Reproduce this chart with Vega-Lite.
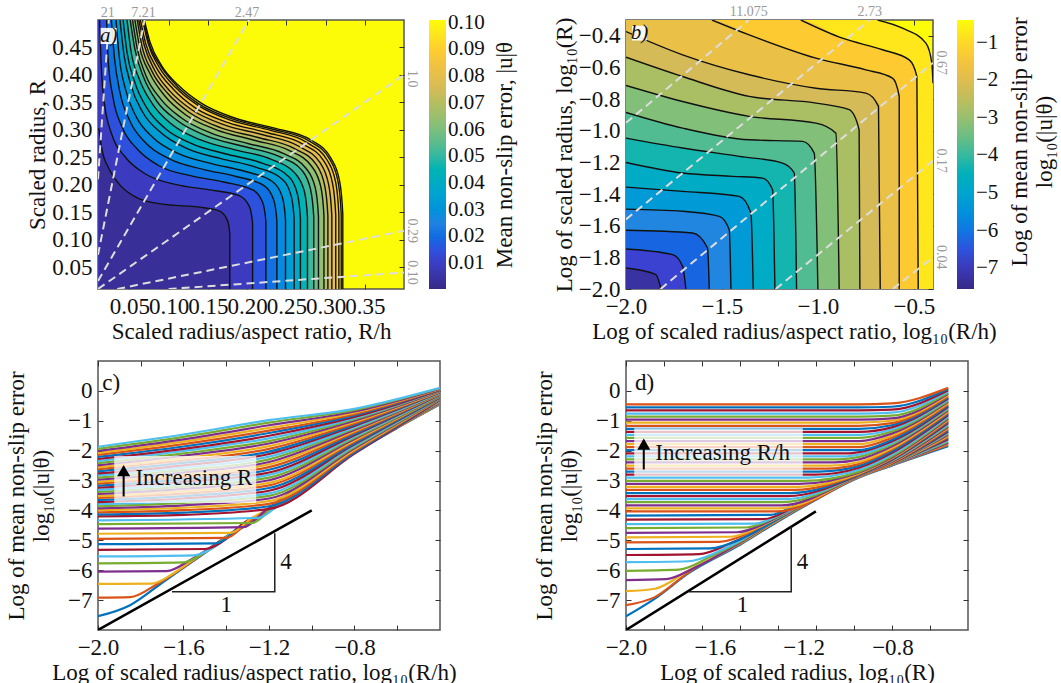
{"$schema":"https://vega.github.io/schema/vega-lite/v6.json","padding":{"left":4,"top":4,"right":0,"bottom":0},"background":"white","bounds":"flush","align":"all","columns":2,"spacing":{"row":72,"column":186},"resolve":{"scale":{"fill":"independent"}},
"config":{"font":"Liberation Serif","view":{"stroke":"#555555","strokeWidth":1.5},"axis":{"grid":false,"labelFont":"Liberation Serif","labelFontSize":23,"labelColor":"#111111","titleFont":"Liberation Serif","titleFontSize":23,"titleFontWeight":"normal","titleColor":"#111111","tickSize":-5,"tickColor":"#333333","domain":false,"labelPadding":11,"labelOverlap":false,"labelFlush":false,"labelBound":false,"titlePadding":2,"titleLimit":600},"legend":{"labelFont":"Liberation Serif","labelFontSize":21,"labelColor":"#111111","titleFont":"Liberation Serif","titleFontSize":23,"titleFontWeight":"normal","titleColor":"#111111","titleLimit":600}},
"datasets":{
"ca":[
{"l":0.099,"x":0.01,"y":0.5,"e":1},{"l":0.099,"x":0.069,"y":0.5},{"l":0.099,"x":0.0765,"y":0.459},{"l":0.099,"x":0.091,"y":0.417},{"l":0.099,"x":0.1125,"y":0.381},{"l":0.099,"x":0.142,"y":0.348},{"l":0.099,"x":0.185,"y":0.321},{"l":0.099,"x":0.235,"y":0.303},{"l":0.099,"x":0.282,"y":0.281},{"l":0.099,"x":0.307,"y":0.248},{"l":0.099,"x":0.318,"y":0.206},{"l":0.099,"x":0.322,"y":0.146},{"l":0.099,"x":0.322,"y":0.01},
{"l":0.093,"x":0.01,"y":0.5,"e":1},{"l":0.093,"x":0.068,"y":0.5},{"l":0.093,"x":0.075,"y":0.458},{"l":0.093,"x":0.09,"y":0.416},{"l":0.093,"x":0.111,"y":0.379},{"l":0.093,"x":0.14,"y":0.346},{"l":0.093,"x":0.183,"y":0.319},{"l":0.093,"x":0.233,"y":0.301},{"l":0.093,"x":0.28,"y":0.279},{"l":0.093,"x":0.305,"y":0.247},{"l":0.093,"x":0.316,"y":0.205},{"l":0.093,"x":0.32,"y":0.146},{"l":0.093,"x":0.32,"y":0.01},
{"l":0.087,"x":0.01,"y":0.5,"e":1},{"l":0.087,"x":0.067,"y":0.5},{"l":0.087,"x":0.074,"y":0.457},{"l":0.087,"x":0.088,"y":0.414},{"l":0.087,"x":0.109,"y":0.377},{"l":0.087,"x":0.138,"y":0.344},{"l":0.087,"x":0.18,"y":0.317},{"l":0.087,"x":0.23,"y":0.299},{"l":0.087,"x":0.276,"y":0.277},{"l":0.087,"x":0.302,"y":0.245},{"l":0.087,"x":0.313,"y":0.204},{"l":0.087,"x":0.317,"y":0.145},{"l":0.087,"x":0.317,"y":0.01},
{"l":0.081,"x":0.01,"y":0.5,"e":1},{"l":0.081,"x":0.064,"y":0.5},{"l":0.081,"x":0.071,"y":0.456},{"l":0.081,"x":0.085,"y":0.412},{"l":0.081,"x":0.106,"y":0.374},{"l":0.081,"x":0.134,"y":0.34},{"l":0.081,"x":0.176,"y":0.313},{"l":0.081,"x":0.225,"y":0.295},{"l":0.081,"x":0.271,"y":0.274},{"l":0.081,"x":0.298,"y":0.243},{"l":0.081,"x":0.309,"y":0.202},{"l":0.081,"x":0.313,"y":0.145},{"l":0.081,"x":0.313,"y":0.01},
{"l":0.075,"x":0.01,"y":0.5,"e":1},{"l":0.075,"x":0.062,"y":0.5},{"l":0.075,"x":0.069,"y":0.454},{"l":0.075,"x":0.082,"y":0.409},{"l":0.075,"x":0.102,"y":0.37},{"l":0.075,"x":0.13,"y":0.336},{"l":0.075,"x":0.171,"y":0.309},{"l":0.075,"x":0.22,"y":0.291},{"l":0.075,"x":0.266,"y":0.27},{"l":0.075,"x":0.293,"y":0.24},{"l":0.075,"x":0.304,"y":0.2},{"l":0.075,"x":0.308,"y":0.144},{"l":0.075,"x":0.308,"y":0.01},
{"l":0.069,"x":0.01,"y":0.5,"e":1},{"l":0.069,"x":0.06,"y":0.5},{"l":0.069,"x":0.066,"y":0.453},{"l":0.069,"x":0.079,"y":0.406},{"l":0.069,"x":0.099,"y":0.366},{"l":0.069,"x":0.126,"y":0.332},{"l":0.069,"x":0.166,"y":0.304},{"l":0.069,"x":0.214,"y":0.286},{"l":0.069,"x":0.26,"y":0.266},{"l":0.069,"x":0.288,"y":0.237},{"l":0.069,"x":0.299,"y":0.198},{"l":0.069,"x":0.303,"y":0.143},{"l":0.069,"x":0.303,"y":0.01},
{"l":0.063,"x":0.01,"y":0.5,"e":1},{"l":0.063,"x":0.057,"y":0.5},{"l":0.063,"x":0.063,"y":0.451},{"l":0.063,"x":0.076,"y":0.403},{"l":0.063,"x":0.095,"y":0.362},{"l":0.063,"x":0.122,"y":0.327},{"l":0.063,"x":0.161,"y":0.3},{"l":0.063,"x":0.209,"y":0.281},{"l":0.063,"x":0.254,"y":0.262},{"l":0.063,"x":0.282,"y":0.234},{"l":0.063,"x":0.294,"y":0.196},{"l":0.063,"x":0.298,"y":0.143},{"l":0.063,"x":0.298,"y":0.01},
{"l":0.057,"x":0.01,"y":0.5,"e":1},{"l":0.057,"x":0.054,"y":0.5},{"l":0.057,"x":0.06,"y":0.448},{"l":0.057,"x":0.071,"y":0.399},{"l":0.057,"x":0.09,"y":0.356},{"l":0.057,"x":0.116,"y":0.322},{"l":0.057,"x":0.154,"y":0.294},{"l":0.057,"x":0.201,"y":0.275},{"l":0.057,"x":0.246,"y":0.257},{"l":0.057,"x":0.275,"y":0.23},{"l":0.057,"x":0.287,"y":0.194},{"l":0.057,"x":0.291,"y":0.142},{"l":0.057,"x":0.291,"y":0.01},
{"l":0.051,"x":0.01,"y":0.5,"e":1},{"l":0.051,"x":0.051,"y":0.5},{"l":0.051,"x":0.057,"y":0.447},{"l":0.051,"x":0.068,"y":0.396},{"l":0.051,"x":0.085,"y":0.352},{"l":0.051,"x":0.111,"y":0.317},{"l":0.051,"x":0.148,"y":0.289},{"l":0.051,"x":0.195,"y":0.27},{"l":0.051,"x":0.24,"y":0.252},{"l":0.051,"x":0.27,"y":0.226},{"l":0.051,"x":0.281,"y":0.191},{"l":0.051,"x":0.285,"y":0.141},{"l":0.051,"x":0.285,"y":0.01},
{"l":0.045,"x":0.01,"y":0.5,"e":1},{"l":0.045,"x":0.047,"y":0.5},{"l":0.045,"x":0.052,"y":0.444},{"l":0.045,"x":0.063,"y":0.391},{"l":0.045,"x":0.08,"y":0.346},{"l":0.045,"x":0.104,"y":0.31},{"l":0.045,"x":0.14,"y":0.282},{"l":0.045,"x":0.186,"y":0.263},{"l":0.045,"x":0.231,"y":0.246},{"l":0.045,"x":0.261,"y":0.221},{"l":0.045,"x":0.273,"y":0.188},{"l":0.045,"x":0.277,"y":0.14},{"l":0.045,"x":0.277,"y":0.01},
{"l":0.039,"x":0.01,"y":0.5,"e":1},{"l":0.039,"x":0.042,"y":0.5},{"l":0.039,"x":0.047,"y":0.441},{"l":0.039,"x":0.057,"y":0.386},{"l":0.039,"x":0.073,"y":0.338},{"l":0.039,"x":0.096,"y":0.302},{"l":0.039,"x":0.131,"y":0.274},{"l":0.039,"x":0.176,"y":0.255},{"l":0.039,"x":0.22,"y":0.239},{"l":0.039,"x":0.252,"y":0.216},{"l":0.039,"x":0.264,"y":0.184},{"l":0.039,"x":0.268,"y":0.138},{"l":0.039,"x":0.268,"y":0.01},
{"l":0.033,"x":0.01,"y":0.5,"e":1},{"l":0.033,"x":0.038,"y":0.5},{"l":0.033,"x":0.043,"y":0.438},{"l":0.033,"x":0.052,"y":0.381},{"l":0.033,"x":0.067,"y":0.332},{"l":0.033,"x":0.09,"y":0.295},{"l":0.033,"x":0.123,"y":0.266},{"l":0.033,"x":0.168,"y":0.247},{"l":0.033,"x":0.211,"y":0.232},{"l":0.033,"x":0.244,"y":0.211},{"l":0.033,"x":0.256,"y":0.181},{"l":0.033,"x":0.26,"y":0.137},{"l":0.033,"x":0.26,"y":0.01},
{"l":0.027,"x":0.01,"y":0.5,"e":1},{"l":0.027,"x":0.033,"y":0.5},{"l":0.027,"x":0.037,"y":0.434},{"l":0.027,"x":0.045,"y":0.374},{"l":0.027,"x":0.059,"y":0.323},{"l":0.027,"x":0.08,"y":0.286},{"l":0.027,"x":0.112,"y":0.257},{"l":0.027,"x":0.156,"y":0.238},{"l":0.027,"x":0.198,"y":0.224},{"l":0.027,"x":0.233,"y":0.205},{"l":0.027,"x":0.245,"y":0.177},{"l":0.027,"x":0.249,"y":0.136},{"l":0.027,"x":0.249,"y":0.01},
{"l":0.021,"x":0.01,"y":0.5,"e":1},{"l":0.021,"x":0.027,"y":0.5},{"l":0.021,"x":0.031,"y":0.431},{"l":0.021,"x":0.038,"y":0.368},{"l":0.021,"x":0.051,"y":0.315},{"l":0.021,"x":0.071,"y":0.276},{"l":0.021,"x":0.101,"y":0.247},{"l":0.021,"x":0.144,"y":0.228},{"l":0.021,"x":0.186,"y":0.215},{"l":0.021,"x":0.222,"y":0.198},{"l":0.021,"x":0.234,"y":0.172},{"l":0.021,"x":0.238,"y":0.134},{"l":0.021,"x":0.238,"y":0.01},
{"l":0.015,"x":0.01,"y":0.5,"e":1},{"l":0.015,"x":0.021,"y":0.5},{"l":0.015,"x":0.023,"y":0.426},{"l":0.015,"x":0.029,"y":0.36},{"l":0.015,"x":0.041,"y":0.304},{"l":0.015,"x":0.06,"y":0.265},{"l":0.015,"x":0.087,"y":0.235},{"l":0.015,"x":0.129,"y":0.216},{"l":0.015,"x":0.17,"y":0.205},{"l":0.015,"x":0.208,"y":0.19},{"l":0.015,"x":0.22,"y":0.167},{"l":0.015,"x":0.224,"y":0.132},{"l":0.015,"x":0.224,"y":0.01},
{"l":0.009,"x":0.01,"y":0.5,"e":1},{"l":0.009,"x":0.012,"y":0.5},{"l":0.009,"x":0.014,"y":0.42},{"l":0.009,"x":0.018,"y":0.35},{"l":0.009,"x":0.028,"y":0.29},{"l":0.009,"x":0.045,"y":0.25},{"l":0.009,"x":0.07,"y":0.22},{"l":0.009,"x":0.11,"y":0.2},{"l":0.009,"x":0.15,"y":0.191},{"l":0.009,"x":0.19,"y":0.18},{"l":0.009,"x":0.203,"y":0.16},{"l":0.009,"x":0.207,"y":0.13},{"l":0.009,"x":0.207,"y":0.01},
{"l":0.003,"x":0.011,"y":0.303},{"l":0.003,"x":0.015,"y":0.265},{"l":0.003,"x":0.024,"y":0.229},{"l":0.003,"x":0.037,"y":0.201},{"l":0.003,"x":0.06,"y":0.176},{"l":0.003,"x":0.09,"y":0.165},{"l":0.003,"x":0.145,"y":0.158},{"l":0.003,"x":0.165,"y":0.152},{"l":0.003,"x":0.175,"y":0.135},{"l":0.003,"x":0.178,"y":0.11},{"l":0.003,"x":0.178,"y":0.01}
],
"ra":[{"h":"21","x":0.01,"y":0.21},{"h":"21","x":0.0238,"y":0.5},{"h":"7.21","x":0.01,"y":0.0721},{"h":"7.21","x":0.0693,"y":0.5},{"h":"2.47","x":0.01,"y":0.0247},{"h":"2.47","x":0.2024,"y":0.5},{"h":"1.0","x":0.01,"y":0.01},{"h":"1.0","x":0.4,"y":0.4},{"h":"0.29","x":0.0345,"y":0.01},{"h":"0.29","x":0.4,"y":0.116},{"h":"0.10","x":0.1,"y":0.01},{"h":"0.10","x":0.4,"y":0.04}],
"cb":[
{"l":-0.75,"x":-2,"y":-0.3,"e":1},{"l":-0.75,"x":-0.689,"y":-0.3},{"l":-0.75,"x":-0.559,"y":-0.352},{"l":-0.75,"x":-0.437,"y":-0.446},{"l":-0.75,"x":-0.406,"y":-0.573},{"l":-0.75,"x":-0.4,"y":-0.7},
{"l":-1.25,"x":-2,"y":-0.3,"e":1},{"l":-1.25,"x":-1.089,"y":-0.3},{"l":-1.25,"x":-0.872,"y":-0.415},{"l":-1.25,"x":-0.663,"y":-0.488},{"l":-1.25,"x":-0.524,"y":-0.552},{"l":-1.25,"x":-0.484,"y":-0.657},{"l":-1.25,"x":-0.477,"y":-2},
{"l":-1.75,"x":-2,"y":-0.3,"e":1},{"l":-1.75,"x":-1.552,"y":-0.3},{"l":-1.75,"x":-1.358,"y":-0.394},{"l":-1.75,"x":-1.01,"y":-0.541},{"l":-1.75,"x":-0.75,"y":-0.615},{"l":-1.75,"x":-0.611,"y":-0.667},{"l":-1.75,"x":-0.576,"y":-0.783},{"l":-1.75,"x":-0.576,"y":-2},
{"l":-2.25,"x":-2,"y":-0.373},{"l":-2.25,"x":-1.705,"y":-0.52},{"l":-2.25,"x":-1.358,"y":-0.646},{"l":-2.25,"x":-1.01,"y":-0.731},{"l":-2.25,"x":-0.75,"y":-0.762},{"l":-2.25,"x":-0.684,"y":-0.846},{"l":-2.25,"x":-0.675,"y":-2},
{"l":-2.75,"x":-2,"y":-0.535},{"l":-2.75,"x":-1.705,"y":-0.657},{"l":-2.75,"x":-1.358,"y":-0.783},{"l":-2.75,"x":-1.01,"y":-0.825},{"l":-2.75,"x":-0.837,"y":-0.867},{"l":-2.75,"x":-0.785,"y":-0.994},{"l":-2.75,"x":-0.781,"y":-2},
{"l":-3.25,"x":-2,"y":-0.714},{"l":-3.25,"x":-1.705,"y":-0.815},{"l":-3.25,"x":-1.358,"y":-0.909},{"l":-3.25,"x":-1.01,"y":-0.952},{"l":-3.25,"x":-0.906,"y":-1.015},{"l":-3.25,"x":-0.889,"y":-2},
{"l":-3.75,"x":-2,"y":-0.884},{"l":-3.75,"x":-1.705,"y":-0.983},{"l":-3.75,"x":-1.358,"y":-1.057},{"l":-3.75,"x":-1.08,"y":-1.067},{"l":-3.75,"x":-1.019,"y":-1.141},{"l":-3.75,"x":-1,"y":-2},
{"l":-4.25,"x":-2,"y":-1.046},{"l":-4.25,"x":-1.705,"y":-1.109},{"l":-4.25,"x":-1.41,"y":-1.162},{"l":-4.25,"x":-1.184,"y":-1.204},{"l":-4.25,"x":-1.123,"y":-1.267},{"l":-4.25,"x":-1.111,"y":-2},
{"l":-4.75,"x":-2,"y":-1.2},{"l":-4.75,"x":-1.705,"y":-1.267},{"l":-4.75,"x":-1.444,"y":-1.288},{"l":-4.75,"x":-1.288,"y":-1.299},{"l":-4.75,"x":-1.236,"y":-1.373},{"l":-4.75,"x":-1.224,"y":-2},
{"l":-5.25,"x":-2,"y":-1.356},{"l":-5.25,"x":-1.705,"y":-1.383},{"l":-5.25,"x":-1.41,"y":-1.415},{"l":-5.25,"x":-1.349,"y":-1.52},{"l":-5.25,"x":-1.337,"y":-2},
{"l":-5.75,"x":-2,"y":-1.495},{"l":-5.75,"x":-1.705,"y":-1.509},{"l":-5.75,"x":-1.514,"y":-1.541},{"l":-5.75,"x":-1.462,"y":-1.625},{"l":-5.75,"x":-1.453,"y":-2},
{"l":-6.25,"x":-2,"y":-1.629},{"l":-6.25,"x":-1.653,"y":-1.646},{"l":-6.25,"x":-1.575,"y":-1.741},{"l":-6.25,"x":-1.566,"y":-2},
{"l":-6.75,"x":-2,"y":-1.747},{"l":-6.75,"x":-1.757,"y":-1.783},{"l":-6.75,"x":-1.705,"y":-1.857},{"l":-6.75,"x":-1.688,"y":-2},
{"l":-7.25,"x":-2,"y":-1.867},{"l":-7.25,"x":-1.844,"y":-1.909},{"l":-7.25,"x":-1.818,"y":-2}
],
"rb":[{"h":"a","x":-2,"y":-0.95},{"h":"a","x":-1.36,"y":-0.3},{"h":"b","x":-2,"y":-1.56},{"h":"b","x":-0.73,"y":-0.3},{"h":"c","x":-1.82,"y":-2},{"h":"c","x":-0.4,"y":-0.57},{"h":"d","x":-1.22,"y":-2},{"h":"d","x":-0.4,"y":-1.19},{"h":"e","x":-0.61,"y":-2},{"h":"e","x":-0.4,"y":-1.8}],
"lc":[
{"s":0,"x":-2,"y":-7.54},{"s":0,"x":-1.85,"y":-7.17},{"s":0,"x":-1.7,"y":-6.42},{"s":0,"x":-1.56,"y":-5.72},{"s":0,"x":-1.33,"y":-4.6},{"s":0,"x":-1.2,"y":-4.04},{"s":0,"x":-0.89,"y":-2.47},{"s":0,"x":-0.6,"y":-1.24},{"s":0,"x":-0.4,"y":-0.45},
{"s":1,"x":-2,"y":-6.92},{"s":1,"x":-1.85,"y":-6.9},{"s":1,"x":-1.72,"y":-6.45},{"s":1,"x":-1.56,"y":-5.7},{"s":1,"x":-1.33,"y":-4.58},{"s":1,"x":-1.2,"y":-4.03},{"s":1,"x":-0.89,"y":-2.46},{"s":1,"x":-0.6,"y":-1.23},{"s":1,"x":-0.4,"y":-0.44},
{"s":2,"x":-2,"y":-6.46},{"s":2,"x":-1.75,"y":-6.45},{"s":2,"x":-1.65,"y":-6.12},{"s":2,"x":-1.56,"y":-5.68},{"s":2,"x":-1.33,"y":-4.56},{"s":2,"x":-1.2,"y":-4.02},{"s":2,"x":-0.89,"y":-2.45},{"s":2,"x":-0.6,"y":-1.22},{"s":2,"x":-0.4,"y":-0.43},
{"s":3,"x":-2,"y":-6.05},{"s":3,"x":-1.68,"y":-6.03},{"s":3,"x":-1.56,"y":-5.62},{"s":3,"x":-1.33,"y":-4.54},{"s":3,"x":-1.2,"y":-4.01},{"s":3,"x":-0.89,"y":-2.44},{"s":3,"x":-0.6,"y":-1.21},{"s":3,"x":-0.4,"y":-0.42},
{"s":4,"x":-2,"y":-5.77},{"s":4,"x":-1.6,"y":-5.74},{"s":4,"x":-1.5,"y":-5.4},{"s":4,"x":-1.33,"y":-4.52},{"s":4,"x":-1.2,"y":-4},{"s":4,"x":-0.89,"y":-2.43},{"s":4,"x":-0.6,"y":-1.2},{"s":4,"x":-0.4,"y":-0.41},
{"s":5,"x":-2,"y":-5.54},{"s":5,"x":-1.55,"y":-5.5},{"s":5,"x":-1.45,"y":-5.2},{"s":5,"x":-1.33,"y":-4.5},{"s":5,"x":-1.2,"y":-3.99},{"s":5,"x":-0.89,"y":-2.42},{"s":5,"x":-0.6,"y":-1.19},{"s":5,"x":-0.4,"y":-0.4},
{"s":6,"x":-2,"y":-5.32},{"s":6,"x":-1.5,"y":-5.29},{"s":6,"x":-1.4,"y":-4.95},{"s":6,"x":-1.33,"y":-4.48},{"s":6,"x":-1.2,"y":-3.98},{"s":6,"x":-0.89,"y":-2.41},{"s":6,"x":-0.6,"y":-1.18},{"s":6,"x":-0.4,"y":-0.39},
{"s":7,"x":-2,"y":-5.13},{"s":7,"x":-1.45,"y":-5.1},{"s":7,"x":-1.36,"y":-4.72},{"s":7,"x":-1.28,"y":-4.3},{"s":7,"x":-1.2,"y":-3.97},{"s":7,"x":-0.89,"y":-2.4},{"s":7,"x":-0.6,"y":-1.17},{"s":7,"x":-0.4,"y":-0.38},
{"s":8,"x":-2,"y":-4.95},{"s":8,"x":-1.4,"y":-4.92},{"s":8,"x":-1.3,"y":-4.4},{"s":8,"x":-1.2,"y":-3.96},{"s":8,"x":-0.89,"y":-2.39},{"s":8,"x":-0.6,"y":-1.16},{"s":8,"x":-0.4,"y":-0.37},
{"s":9,"x":-2,"y":-4.78},{"s":9,"x":-1.38,"y":-4.75},{"s":9,"x":-1.28,"y":-4.25},{"s":9,"x":-1.2,"y":-3.95},{"s":9,"x":-0.89,"y":-2.38},{"s":9,"x":-0.6,"y":-1.15},{"s":9,"x":-0.4,"y":-0.36},
{"s":10,"x":-2,"y":-4.61},{"s":10,"x":-1.32,"y":-4.56},{"s":10,"x":-1.22,"y":-4.02},{"s":10,"x":-0.89,"y":-2.37},{"s":10,"x":-0.6,"y":-1.14},{"s":10,"x":-0.4,"y":-0.35},
{"s":11,"x":-2,"y":-4.46},{"s":11,"x":-1.28,"y":-4.42},{"s":11,"x":-1.18,"y":-3.88},{"s":11,"x":-0.89,"y":-2.36},{"s":11,"x":-0.6,"y":-1.13},{"s":11,"x":-0.4,"y":-0.34},
{"s":12,"x":-2,"y":-4.33},{"s":12,"x":-1.25,"y":-4.25},{"s":12,"x":-1.14,"y":-3.72},{"s":12,"x":-0.89,"y":-2.35},{"s":12,"x":-0.6,"y":-1.12},{"s":12,"x":-0.4,"y":-0.33},
{"s":13,"x":-2,"y":-4.2},{"s":13,"x":-1.6,"y":-4.15},{"s":13,"x":-1.2,"y":-3.95},{"s":13,"x":-0.8,"y":-2.1},{"s":13,"x":-0.4,"y":-0.3},
{"s":14,"x":-2,"y":-4.13},{"s":14,"x":-1.6,"y":-4.07},{"s":14,"x":-1.2,"y":-3.86},{"s":14,"x":-0.8,"y":-2.06},{"s":14,"x":-0.4,"y":-0.29},
{"s":15,"x":-2,"y":-4.06},{"s":15,"x":-1.6,"y":-3.99},{"s":15,"x":-1.2,"y":-3.78},{"s":15,"x":-0.8,"y":-2.01},{"s":15,"x":-0.4,"y":-0.28},
{"s":16,"x":-2,"y":-3.99},{"s":16,"x":-1.6,"y":-3.91},{"s":16,"x":-1.2,"y":-3.69},{"s":16,"x":-0.8,"y":-1.97},{"s":16,"x":-0.4,"y":-0.26},
{"s":17,"x":-2,"y":-3.93},{"s":17,"x":-1.6,"y":-3.83},{"s":17,"x":-1.2,"y":-3.6},{"s":17,"x":-0.8,"y":-1.92},{"s":17,"x":-0.4,"y":-0.25},
{"s":18,"x":-2,"y":-3.86},{"s":18,"x":-1.6,"y":-3.75},{"s":18,"x":-1.2,"y":-3.51},{"s":18,"x":-0.8,"y":-1.88},{"s":18,"x":-0.4,"y":-0.24},
{"s":19,"x":-2,"y":-3.79},{"s":19,"x":-1.6,"y":-3.68},{"s":19,"x":-1.2,"y":-3.43},{"s":19,"x":-0.8,"y":-1.84},{"s":19,"x":-0.4,"y":-0.23},
{"s":20,"x":-2,"y":-3.72},{"s":20,"x":-1.6,"y":-3.6},{"s":20,"x":-1.2,"y":-3.34},{"s":20,"x":-0.8,"y":-1.79},{"s":20,"x":-0.4,"y":-0.22},
{"s":21,"x":-2,"y":-3.65},{"s":21,"x":-1.6,"y":-3.52},{"s":21,"x":-1.2,"y":-3.25},{"s":21,"x":-0.8,"y":-1.75},{"s":21,"x":-0.4,"y":-0.21},
{"s":22,"x":-2,"y":-3.58},{"s":22,"x":-1.6,"y":-3.44},{"s":22,"x":-1.2,"y":-3.16},{"s":22,"x":-0.8,"y":-1.7},{"s":22,"x":-0.4,"y":-0.19},
{"s":23,"x":-2,"y":-3.52},{"s":23,"x":-1.6,"y":-3.36},{"s":23,"x":-1.2,"y":-3.08},{"s":23,"x":-0.8,"y":-1.66},{"s":23,"x":-0.4,"y":-0.18},
{"s":24,"x":-2,"y":-3.45},{"s":24,"x":-1.6,"y":-3.28},{"s":24,"x":-1.2,"y":-2.99},{"s":24,"x":-0.8,"y":-1.61},{"s":24,"x":-0.4,"y":-0.17},
{"s":25,"x":-2,"y":-3.38},{"s":25,"x":-1.6,"y":-3.2},{"s":25,"x":-1.2,"y":-2.9},{"s":25,"x":-0.8,"y":-1.57},{"s":25,"x":-0.4,"y":-0.16},
{"s":26,"x":-2,"y":-3.31},{"s":26,"x":-1.6,"y":-3.12},{"s":26,"x":-1.2,"y":-2.81},{"s":26,"x":-0.8,"y":-1.53},{"s":26,"x":-0.4,"y":-0.15},
{"s":27,"x":-2,"y":-3.24},{"s":27,"x":-1.6,"y":-3.04},{"s":27,"x":-1.2,"y":-2.73},{"s":27,"x":-0.8,"y":-1.48},{"s":27,"x":-0.4,"y":-0.13},
{"s":28,"x":-2,"y":-3.17},{"s":28,"x":-1.6,"y":-2.96},{"s":28,"x":-1.2,"y":-2.64},{"s":28,"x":-0.8,"y":-1.44},{"s":28,"x":-0.4,"y":-0.12},
{"s":29,"x":-2,"y":-3.1},{"s":29,"x":-1.6,"y":-2.88},{"s":29,"x":-1.2,"y":-2.55},{"s":29,"x":-0.8,"y":-1.39},{"s":29,"x":-0.4,"y":-0.11},
{"s":30,"x":-2,"y":-3.04},{"s":30,"x":-1.6,"y":-2.81},{"s":30,"x":-1.2,"y":-2.46},{"s":30,"x":-0.8,"y":-1.35},{"s":30,"x":-0.4,"y":-0.1},
{"s":31,"x":-2,"y":-2.97},{"s":31,"x":-1.6,"y":-2.73},{"s":31,"x":-1.2,"y":-2.38},{"s":31,"x":-0.8,"y":-1.31},{"s":31,"x":-0.4,"y":-0.09},
{"s":32,"x":-2,"y":-2.9},{"s":32,"x":-1.6,"y":-2.65},{"s":32,"x":-1.2,"y":-2.29},{"s":32,"x":-0.8,"y":-1.26},{"s":32,"x":-0.4,"y":-0.08},
{"s":33,"x":-2,"y":-2.83},{"s":33,"x":-1.6,"y":-2.57},{"s":33,"x":-1.2,"y":-2.2},{"s":33,"x":-0.8,"y":-1.22},{"s":33,"x":-0.4,"y":-0.06},
{"s":34,"x":-2,"y":-2.76},{"s":34,"x":-1.6,"y":-2.49},{"s":34,"x":-1.2,"y":-2.11},{"s":34,"x":-0.8,"y":-1.17},{"s":34,"x":-0.4,"y":-0.05},
{"s":35,"x":-2,"y":-2.69},{"s":35,"x":-1.6,"y":-2.41},{"s":35,"x":-1.2,"y":-2.03},{"s":35,"x":-0.8,"y":-1.13},{"s":35,"x":-0.4,"y":-0.04},
{"s":36,"x":-2,"y":-2.62},{"s":36,"x":-1.6,"y":-2.33},{"s":36,"x":-1.2,"y":-1.94},{"s":36,"x":-0.8,"y":-1.09},{"s":36,"x":-0.4,"y":-0.03},
{"s":37,"x":-2,"y":-2.56},{"s":37,"x":-1.6,"y":-2.25},{"s":37,"x":-1.2,"y":-1.85},{"s":37,"x":-0.8,"y":-1.04},{"s":37,"x":-0.4,"y":-0.02},
{"s":38,"x":-2,"y":-2.49},{"s":38,"x":-1.6,"y":-2.17},{"s":38,"x":-1.2,"y":-1.76},{"s":38,"x":-0.8,"y":-1},{"s":38,"x":-0.4,"y":-0.01},
{"s":39,"x":-2,"y":-2.42},{"s":39,"x":-1.6,"y":-2.09},{"s":39,"x":-1.2,"y":-1.68},{"s":39,"x":-0.8,"y":-0.95},{"s":39,"x":-0.4,"y":0.01},
{"s":40,"x":-2,"y":-2.35},{"s":40,"x":-1.6,"y":-2.01},{"s":40,"x":-1.2,"y":-1.59},{"s":40,"x":-0.8,"y":-0.91},{"s":40,"x":-0.4,"y":0.02},
{"s":41,"x":-2,"y":-2.28},{"s":41,"x":-1.6,"y":-1.94},{"s":41,"x":-1.2,"y":-1.5},{"s":41,"x":-0.8,"y":-0.87},{"s":41,"x":-0.4,"y":0.03},
{"s":42,"x":-2,"y":-2.21},{"s":42,"x":-1.6,"y":-1.86},{"s":42,"x":-1.2,"y":-1.41},{"s":42,"x":-0.8,"y":-0.82},{"s":42,"x":-0.4,"y":0.04},
{"s":43,"x":-2,"y":-2.14},{"s":43,"x":-1.6,"y":-1.78},{"s":43,"x":-1.2,"y":-1.33},{"s":43,"x":-0.8,"y":-0.78},{"s":43,"x":-0.4,"y":0.05},
{"s":44,"x":-2,"y":-2.08},{"s":44,"x":-1.6,"y":-1.7},{"s":44,"x":-1.2,"y":-1.24},{"s":44,"x":-0.8,"y":-0.73},{"s":44,"x":-0.4,"y":0.07},
{"s":45,"x":-2,"y":-2.01},{"s":45,"x":-1.6,"y":-1.62},{"s":45,"x":-1.2,"y":-1.15},{"s":45,"x":-0.8,"y":-0.69},{"s":45,"x":-0.4,"y":0.08},
{"s":46,"x":-2,"y":-1.94},{"s":46,"x":-1.6,"y":-1.54},{"s":46,"x":-1.2,"y":-1.06},{"s":46,"x":-0.8,"y":-0.64},{"s":46,"x":-0.4,"y":0.09},
{"s":47,"x":-2,"y":-1.87},{"s":47,"x":-1.6,"y":-1.46},{"s":47,"x":-1.2,"y":-0.98},{"s":47,"x":-0.8,"y":-0.6},{"s":47,"x":-0.4,"y":0.1}
],
"ld":[
{"s":0,"x":-2,"y":-7.54},{"s":0,"x":-1.868,"y":-6.94},{"s":0,"x":-1.718,"y":-6.1},{"s":0,"x":-1.487,"y":-5.15},{"s":0,"x":-1.316,"y":-4.37},{"s":0,"x":-1.145,"y":-3.64},{"s":0,"x":-0.974,"y":-2.97},{"s":0,"x":-0.804,"y":-2.5},{"s":0,"x":-0.549,"y":-1.85},
{"s":1,"x":-2,"y":-7.17},{"s":1,"x":-1.87,"y":-6.9},{"s":1,"x":-1.718,"y":-6.07},{"s":1,"x":-1.487,"y":-5.12},{"s":1,"x":-1.316,"y":-4.34},{"s":1,"x":-1.145,"y":-3.62},{"s":1,"x":-0.974,"y":-2.95},{"s":1,"x":-0.804,"y":-2.49},{"s":1,"x":-0.549,"y":-1.81},
{"s":2,"x":-2,"y":-6.7},{"s":2,"x":-1.87,"y":-6.62},{"s":2,"x":-1.72,"y":-6.02},{"s":2,"x":-1.487,"y":-5.1},{"s":2,"x":-1.316,"y":-4.32},{"s":2,"x":-1.145,"y":-3.6},{"s":2,"x":-0.974,"y":-2.95},{"s":2,"x":-0.804,"y":-2.48},{"s":2,"x":-0.549,"y":-1.77},
{"s":3,"x":-2,"y":-6.33},{"s":3,"x":-1.82,"y":-6.3},{"s":3,"x":-1.7,"y":-5.95},{"s":3,"x":-1.487,"y":-5.08},{"s":3,"x":-1.316,"y":-4.3},{"s":3,"x":-1.145,"y":-3.59},{"s":3,"x":-0.974,"y":-2.94},{"s":3,"x":-0.804,"y":-2.48},{"s":3,"x":-0.549,"y":-1.74},
{"s":4,"x":-2,"y":-6.02},{"s":4,"x":-1.76,"y":-5.98},{"s":4,"x":-1.62,"y":-5.55},{"s":4,"x":-1.487,"y":-5.05},{"s":4,"x":-1.316,"y":-4.28},{"s":4,"x":-1.145,"y":-3.58},{"s":4,"x":-0.974,"y":-2.94},{"s":4,"x":-0.804,"y":-2.47},{"s":4,"x":-0.549,"y":-1.7},
{"s":5,"x":-2,"y":-5.73},{"s":5,"x":-1.72,"y":-5.7},{"s":5,"x":-1.58,"y":-5.36},{"s":5,"x":-1.47,"y":-4.95},{"s":5,"x":-1.316,"y":-4.26},{"s":5,"x":-1.145,"y":-3.57},{"s":5,"x":-0.974,"y":-2.93},{"s":5,"x":-0.804,"y":-2.47},{"s":5,"x":-0.549,"y":-1.66},
{"s":6,"x":-2,"y":-5.49},{"s":6,"x":-1.67,"y":-5.46},{"s":6,"x":-1.53,"y":-5.1},{"s":6,"x":-1.42,"y":-4.72},{"s":6,"x":-1.316,"y":-4.24},{"s":6,"x":-1.145,"y":-3.56},{"s":6,"x":-0.974,"y":-2.93},{"s":6,"x":-0.804,"y":-2.46},{"s":6,"x":-0.549,"y":-1.62},
{"s":7,"x":-2,"y":-5.29},{"s":7,"x":-1.62,"y":-5.27},{"s":7,"x":-1.49,"y":-4.98},{"s":7,"x":-1.38,"y":-4.55},{"s":7,"x":-1.145,"y":-3.55},{"s":7,"x":-0.974,"y":-2.92},{"s":7,"x":-0.804,"y":-2.46},{"s":7,"x":-0.549,"y":-1.58},
{"s":8,"x":-2,"y":-5.07},{"s":8,"x":-1.58,"y":-5.05},{"s":8,"x":-1.44,"y":-4.72},{"s":8,"x":-1.33,"y":-4.25},{"s":8,"x":-1.145,"y":-3.54},{"s":8,"x":-0.974,"y":-2.92},{"s":8,"x":-0.804,"y":-2.45},{"s":8,"x":-0.549,"y":-1.55},
{"s":9,"x":-2,"y":-4.9},{"s":9,"x":-1.53,"y":-4.88},{"s":9,"x":-1.4,"y":-4.55},{"s":9,"x":-1.3,"y":-4.18},{"s":9,"x":-1.145,"y":-3.53},{"s":9,"x":-0.974,"y":-2.91},{"s":9,"x":-0.804,"y":-2.45},{"s":9,"x":-0.549,"y":-1.51},
{"s":10,"x":-2,"y":-4.75},{"s":10,"x":-1.5,"y":-4.73},{"s":10,"x":-1.37,"y":-4.42},{"s":10,"x":-1.28,"y":-4.08},{"s":10,"x":-1.145,"y":-3.52},{"s":10,"x":-0.974,"y":-2.91},{"s":10,"x":-0.804,"y":-2.44},{"s":10,"x":-0.549,"y":-1.47},
{"s":11,"x":-2,"y":-4.59},{"s":11,"x":-1.46,"y":-4.57},{"s":11,"x":-1.34,"y":-4.28},{"s":11,"x":-1.25,"y":-3.94},{"s":11,"x":-0.974,"y":-2.9},{"s":11,"x":-0.804,"y":-2.44},{"s":11,"x":-0.549,"y":-1.43},
{"s":12,"x":-2,"y":-4.46},{"s":12,"x":-1.42,"y":-4.44},{"s":12,"x":-1.3,"y":-4.12},{"s":12,"x":-1.2,"y":-3.77},{"s":12,"x":-0.974,"y":-2.9},{"s":12,"x":-0.804,"y":-2.43},{"s":12,"x":-0.549,"y":-1.39},
{"s":13,"x":-2,"y":-4.31},{"s":13,"x":-1.38,"y":-4.29},{"s":13,"x":-1.25,"y":-3.92},{"s":13,"x":-1.17,"y":-3.62},{"s":13,"x":-0.974,"y":-2.89},{"s":13,"x":-0.804,"y":-2.43},{"s":13,"x":-0.549,"y":-1.36},
{"s":14,"x":-2,"y":-4.17},{"s":14,"x":-1.35,"y":-4.15},{"s":14,"x":-1.22,"y":-3.75},{"s":14,"x":-1.14,"y":-3.5},{"s":14,"x":-0.974,"y":-2.88},{"s":14,"x":-0.804,"y":-2.42},{"s":14,"x":-0.549,"y":-1.32},
{"s":15,"x":-2,"y":-4.03},{"s":15,"x":-1.32,"y":-4.03},{"s":15,"x":-0.95,"y":-2.86},{"s":15,"x":-0.804,"y":-2.42},{"s":15,"x":-0.549,"y":-1.28},
{"s":16,"x":-2,"y":-3.93},{"s":16,"x":-1.31,"y":-3.93},{"s":16,"x":-0.95,"y":-2.85},{"s":16,"x":-0.804,"y":-2.4},{"s":16,"x":-0.549,"y":-1.24},
{"s":17,"x":-2,"y":-3.83},{"s":17,"x":-1.3,"y":-3.83},{"s":17,"x":-0.95,"y":-2.84},{"s":17,"x":-0.804,"y":-2.38},{"s":17,"x":-0.549,"y":-1.2},
{"s":18,"x":-2,"y":-3.72},{"s":18,"x":-1.29,"y":-3.72},{"s":18,"x":-0.95,"y":-2.83},{"s":18,"x":-0.804,"y":-2.35},{"s":18,"x":-0.549,"y":-1.16},
{"s":19,"x":-2,"y":-3.62},{"s":19,"x":-1.28,"y":-3.62},{"s":19,"x":-0.95,"y":-2.82},{"s":19,"x":-0.804,"y":-2.33},{"s":19,"x":-0.549,"y":-1.12},
{"s":20,"x":-2,"y":-3.52},{"s":20,"x":-1.27,"y":-3.52},{"s":20,"x":-0.95,"y":-2.81},{"s":20,"x":-0.804,"y":-2.31},{"s":20,"x":-0.549,"y":-1.08},
{"s":21,"x":-2,"y":-3.42},{"s":21,"x":-1.26,"y":-3.42},{"s":21,"x":-0.95,"y":-2.8},{"s":21,"x":-0.804,"y":-2.29},{"s":21,"x":-0.549,"y":-1.04},
{"s":22,"x":-2,"y":-3.31},{"s":22,"x":-1.24,"y":-3.31},{"s":22,"x":-0.95,"y":-2.78},{"s":22,"x":-0.804,"y":-2.27},{"s":22,"x":-0.549,"y":-1},
{"s":23,"x":-2,"y":-3.21},{"s":23,"x":-1.23,"y":-3.21},{"s":23,"x":-0.95,"y":-2.76},{"s":23,"x":-0.804,"y":-2.25},{"s":23,"x":-0.549,"y":-0.96},
{"s":24,"x":-2,"y":-3.11},{"s":24,"x":-1.22,"y":-3.11},{"s":24,"x":-0.95,"y":-2.73},{"s":24,"x":-0.804,"y":-2.23},{"s":24,"x":-0.549,"y":-0.93},
{"s":25,"x":-2,"y":-3.01},{"s":25,"x":-1.2,"y":-3.01},{"s":25,"x":-0.95,"y":-2.7},{"s":25,"x":-0.804,"y":-2.2},{"s":25,"x":-0.549,"y":-0.89},
{"s":26,"x":-2,"y":-2.9},{"s":26,"x":-1.18,"y":-2.9},{"s":26,"x":-0.95,"y":-2.64},{"s":26,"x":-0.804,"y":-2.14},{"s":26,"x":-0.549,"y":-0.85},
{"s":27,"x":-2,"y":-2.8},{"s":27,"x":-1.15,"y":-2.8},{"s":27,"x":-0.95,"y":-2.57},{"s":27,"x":-0.804,"y":-2.08},{"s":27,"x":-0.549,"y":-0.81},
{"s":28,"x":-2,"y":-2.7},{"s":28,"x":-1.13,"y":-2.7},{"s":28,"x":-0.95,"y":-2.51},{"s":28,"x":-0.804,"y":-2.03},{"s":28,"x":-0.549,"y":-0.77},
{"s":29,"x":-2,"y":-2.6},{"s":29,"x":-1.1,"y":-2.6},{"s":29,"x":-0.95,"y":-2.44},{"s":29,"x":-0.804,"y":-1.97},{"s":29,"x":-0.549,"y":-0.73},
{"s":30,"x":-2,"y":-2.5},{"s":30,"x":-1.08,"y":-2.5},{"s":30,"x":-0.95,"y":-2.38},{"s":30,"x":-0.804,"y":-1.92},{"s":30,"x":-0.549,"y":-0.69},
{"s":31,"x":-2,"y":-2.39},{"s":31,"x":-1.06,"y":-2.39},{"s":31,"x":-0.95,"y":-2.29},{"s":31,"x":-0.804,"y":-1.86},{"s":31,"x":-0.549,"y":-0.65},
{"s":32,"x":-2,"y":-2.29},{"s":32,"x":-1.04,"y":-2.29},{"s":32,"x":-0.95,"y":-2.21},{"s":32,"x":-0.804,"y":-1.8},{"s":32,"x":-0.549,"y":-0.61},
{"s":33,"x":-2,"y":-2.19},{"s":33,"x":-1.02,"y":-2.19},{"s":33,"x":-0.95,"y":-2.13},{"s":33,"x":-0.804,"y":-1.75},{"s":33,"x":-0.549,"y":-0.57},
{"s":34,"x":-2,"y":-2.09},{"s":34,"x":-1,"y":-2.09},{"s":34,"x":-0.95,"y":-2.05},{"s":34,"x":-0.804,"y":-1.69},{"s":34,"x":-0.549,"y":-0.53},
{"s":35,"x":-2,"y":-1.98},{"s":35,"x":-0.95,"y":-1.98},{"s":35,"x":-0.804,"y":-1.64},{"s":35,"x":-0.549,"y":-0.49},
{"s":36,"x":-2,"y":-1.88},{"s":36,"x":-0.95,"y":-1.88},{"s":36,"x":-0.804,"y":-1.57},{"s":36,"x":-0.549,"y":-0.45},
{"s":37,"x":-2,"y":-1.78},{"s":37,"x":-0.95,"y":-1.78},{"s":37,"x":-0.804,"y":-1.5},{"s":37,"x":-0.549,"y":-0.41},
{"s":38,"x":-2,"y":-1.68},{"s":38,"x":-0.95,"y":-1.68},{"s":38,"x":-0.804,"y":-1.43},{"s":38,"x":-0.549,"y":-0.37},
{"s":39,"x":-2,"y":-1.57},{"s":39,"x":-0.95,"y":-1.57},{"s":39,"x":-0.804,"y":-1.36},{"s":39,"x":-0.549,"y":-0.33},
{"s":40,"x":-2,"y":-1.47},{"s":40,"x":-0.95,"y":-1.47},{"s":40,"x":-0.804,"y":-1.29},{"s":40,"x":-0.549,"y":-0.29},
{"s":41,"x":-2,"y":-1.37},{"s":41,"x":-0.95,"y":-1.37},{"s":41,"x":-0.804,"y":-1.22},{"s":41,"x":-0.549,"y":-0.26},
{"s":42,"x":-2,"y":-1.27},{"s":42,"x":-0.95,"y":-1.27},{"s":42,"x":-0.804,"y":-1.15},{"s":42,"x":-0.549,"y":-0.22},
{"s":43,"x":-2,"y":-1.17},{"s":43,"x":-0.95,"y":-1.17},{"s":43,"x":-0.804,"y":-1.08},{"s":43,"x":-0.549,"y":-0.18},
{"s":44,"x":-2,"y":-1.06},{"s":44,"x":-0.95,"y":-1.06},{"s":44,"x":-0.804,"y":-1},{"s":44,"x":-0.549,"y":-0.14},
{"s":45,"x":-2,"y":-0.96},{"s":45,"x":-0.95,"y":-0.96},{"s":45,"x":-0.804,"y":-0.92},{"s":45,"x":-0.549,"y":-0.1},
{"s":46,"x":-2,"y":-0.86},{"s":46,"x":-0.95,"y":-0.86},{"s":46,"x":-0.804,"y":-0.83},{"s":46,"x":-0.549,"y":-0.06},
{"s":47,"x":-2,"y":-0.76},{"s":47,"x":-0.95,"y":-0.76},{"s":47,"x":-0.804,"y":-0.73},{"s":47,"x":-0.549,"y":-0.02},
{"s":48,"x":-2,"y":-0.65},{"s":48,"x":-0.95,"y":-0.65},{"s":48,"x":-0.804,"y":-0.63},{"s":48,"x":-0.549,"y":0.02},
{"s":49,"x":-2,"y":-0.55},{"s":49,"x":-0.95,"y":-0.55},{"s":49,"x":-0.804,"y":-0.53},{"s":49,"x":-0.549,"y":0.06},
{"s":50,"x":-2,"y":-0.45},{"s":50,"x":-0.95,"y":-0.45},{"s":50,"x":-0.804,"y":-0.42},{"s":50,"x":-0.549,"y":0.1}
]
},
"concat":[
{"width":306,"height":269,"view":{"fill":"#fcfc08"},"resolve":{"axis":{"x":"independent","y":"independent"}},"layer":[
{"data":{"name":"ca"},"mark":{"type":"area","clip":true,"interpolate":"monotone"},"encoding":{"x":{"field":"x","type":"quantitative","scale":{"domain":[0.01,0.4],"nice":false,"zero":false},"axis":{"values":[0.05,0.1,0.15,0.2,0.25,0.3,0.35],"format":".2f","title":"Scaled radius/aspect ratio, R/h"}},"y":{"field":"y","type":"quantitative","scale":{"domain":[0.01,0.5],"nice":false,"zero":false},"axis":{"values":[0.05,0.1,0.15,0.2,0.25,0.3,0.35,0.4,0.45],"format":".2f","title":"Scaled radius, R"}},"y2":{"datum":0.01},"detail":{"field":"l"},"fill":{"field":"l","type":"quantitative","scale":{"domain":[0.0003,0.01289,0.02548,0.03806,0.05065,0.06324,0.07583,0.08841,0.101],"range":["#352a87","#3b44d9","#2385e0","#0ca8c9","#38b99e","#92bf73","#d9ba56","#fcc832","#fcfc08"]},"legend":{"orient":"right","offset":24,"gradientLength":269,"gradientThickness":17,"gradientStrokeColor":"#555555","values":[0.01,0.02,0.03,0.04,0.05,0.06,0.07,0.08,0.09,0.1],"format":".2f","labelOverlap":false,"title":"Mean non-slip error, |u|θ","titleOrient":"right","titleAlign":"center","titleBaseline":"middle","titlePadding":20,"encode":{"title":{"update":{"angle":{"value":270}}},"labels":{"update":{"baseline":{"value":"middle"}}}}}}}},
{"data":{"name":"ca"},"transform":[{"filter":"datum.e!=1"}],"mark":{"type":"line","color":"#111111","strokeWidth":1.4,"clip":true,"interpolate":"monotone"},"encoding":{"x":{"field":"x","type":"quantitative","axis":null},"y":{"field":"y","type":"quantitative","axis":null},"detail":{"field":"l"}}},
{"data":{"name":"ra"},"mark":{"type":"line","color":"#dddddd","strokeWidth":2,"strokeDash":[8,5],"clip":true},"encoding":{"x":{"field":"x","type":"quantitative","axis":{"orient":"top","values":[0.05,0.1,0.15,0.2,0.25,0.3,0.35],"labels":false,"title":null}},"y":{"field":"y","type":"quantitative","axis":{"orient":"right","values":[0.05,0.1,0.15,0.2,0.25,0.3,0.35,0.4,0.45],"labels":false,"title":null}},"detail":{"field":"h"}}},
{"data":{"values":[{"x":0.0236,"y":0.471}]},"mark":{"type":"square","color":"white","size":260,"opacity":0.9},"encoding":{"x":{"field":"x","type":"quantitative","axis":null},"y":{"field":"y","type":"quantitative","axis":null}}},
{"data":{"values":[{"x":0.0236,"y":0.471,"t":"a)"}]},"mark":{"type":"text","fontSize":21,"fontStyle":"italic","color":"#111111"},"encoding":{"x":{"field":"x","type":"quantitative","axis":null},"y":{"field":"y","type":"quantitative","axis":null},"text":{"field":"t"}}},
{"data":{"values":[{"x":0.0223,"y":0.5,"t":"21"},{"x":0.068,"y":0.5,"t":"7.21"},{"x":0.2,"y":0.5,"t":"2.47"}]},"mark":{"type":"text","fontSize":14,"color":"#999999","dy":-7},"encoding":{"x":{"field":"x","type":"quantitative","axis":null},"y":{"field":"y","type":"quantitative","axis":null},"text":{"field":"t"}}},
{"data":{"values":[{"x":0.4,"y":0.393,"t":"1.0"},{"x":0.4,"y":0.116,"t":"0.29"},{"x":0.4,"y":0.04,"t":"0.10"}]},"mark":{"type":"text","fontSize":14,"color":"#999999","angle":90,"dy":-8},"encoding":{"x":{"field":"x","type":"quantitative","axis":null},"y":{"field":"y","type":"quantitative","axis":null},"text":{"field":"t"}}}
]},
{"width":307,"height":269,"view":{"fill":"#fcfc08"},"resolve":{"axis":{"x":"independent","y":"independent"}},"layer":[
{"data":{"name":"cb"},"mark":{"type":"area","clip":true,"interpolate":"monotone"},"encoding":{"x":{"field":"x","type":"quantitative","scale":{"domain":[-2,-0.4],"nice":false,"zero":false},"axis":{"values":[-2,-1.5,-1,-0.5],"format":".1f","titleX":168,"title":"Log of scaled radius/aspect ratio, log₁₀(R/h)"}},"y":{"field":"y","type":"quantitative","scale":{"domain":[-2,-0.3],"nice":false,"zero":false},"axis":{"values":[-2,-1.8,-1.6,-1.4,-1.2,-1,-0.8,-0.6,-0.4],"format":".1f","title":"Log of scaled radius, log₁₀(R)"}},"y2":{"datum":-2},"detail":{"field":"l"},"fill":{"field":"l","type":"quantitative","scale":{"domain":[-7.55,-6.65625,-5.7625,-4.86875,-3.975,-3.08125,-2.1875,-1.29375,-0.4],"range":["#352a87","#3b44d9","#2385e0","#0ca8c9","#38b99e","#92bf73","#d9ba56","#fcc832","#fcfc08"]},"legend":{"orient":"right","offset":23,"gradientLength":269,"gradientThickness":17,"gradientStrokeColor":"#555555","values":[-7,-6,-5,-4,-3,-2,-1],"format":"d","labelOverlap":false,"title":["Log of mean non-slip error","log₁₀(|u|θ)"],"titleLineHeight":25,"titleOrient":"right","titleAlign":"center","titleBaseline":"middle","titlePadding":22,"encode":{"title":{"update":{"angle":{"value":270}}}}}}}},
{"data":{"name":"cb"},"transform":[{"filter":"datum.e!=1"}],"mark":{"type":"line","color":"#111111","strokeWidth":1.4,"clip":true,"interpolate":"monotone"},"encoding":{"x":{"field":"x","type":"quantitative","axis":null},"y":{"field":"y","type":"quantitative","axis":null},"detail":{"field":"l"}}},
{"data":{"name":"rb"},"mark":{"type":"line","color":"#dddddd","strokeWidth":2,"strokeDash":[8,5],"clip":true},"encoding":{"x":{"field":"x","type":"quantitative","axis":{"orient":"top","values":[-2,-1.5,-1,-0.5],"labels":false,"title":null}},"y":{"field":"y","type":"quantitative","axis":{"orient":"right","values":[-2,-1.8,-1.6,-1.4,-1.2,-1,-0.8,-0.6,-0.4],"labels":false,"title":null}},"detail":{"field":"h"}}},
{"data":{"values":[{"x":-1.93,"y":-0.383}]},"mark":{"type":"square","color":"white","size":220,"opacity":0.9},"encoding":{"x":{"field":"x","type":"quantitative","axis":null},"y":{"field":"y","type":"quantitative","axis":null}}},
{"data":{"values":[{"x":-1.93,"y":-0.383,"t":"b)"}]},"mark":{"type":"text","fontSize":21,"fontStyle":"italic","color":"#111111"},"encoding":{"x":{"field":"x","type":"quantitative","axis":null},"y":{"field":"y","type":"quantitative","axis":null},"text":{"field":"t"}}},
{"data":{"values":[{"x":-1.36,"y":-0.3,"t":"11.075"},{"x":-0.73,"y":-0.3,"t":"2.73"}]},"mark":{"type":"text","fontSize":14,"color":"#999999","dy":-8},"encoding":{"x":{"field":"x","type":"quantitative","axis":null},"y":{"field":"y","type":"quantitative","axis":null},"text":{"field":"t"}}},
{"data":{"values":[{"x":-0.4,"y":-0.57,"t":"0.67"},{"x":-0.4,"y":-1.19,"t":"0.17"},{"x":-0.4,"y":-1.8,"t":"0.04"}]},"mark":{"type":"text","fontSize":14,"color":"#999999","angle":90,"dy":-8},"encoding":{"x":{"field":"x","type":"quantitative","axis":null},"y":{"field":"y","type":"quantitative","axis":null},"text":{"field":"t"}}}
]},
{"width":342,"height":269,"resolve":{"axis":{"x":"independent","y":"independent"}},"layer":[
{"data":{"name":"lc"},"mark":{"type":"line","strokeWidth":2.2,"clip":true,"interpolate":"monotone"},"encoding":{"x":{"field":"x","type":"quantitative","scale":{"domain":[-2,-0.4],"nice":false,"zero":false},"axis":{"values":[-2,-1.8,-1.6,-1.4,-1.2,-1,-0.8,-0.6],"labelExpr":"abs(round(datum.value*10))%4==0 ? format(datum.value,'.1f') : ''","titleX":156,"title":"Log of scaled radius/aspect ratio, log₁₀(R/h)"}},"y":{"field":"y","type":"quantitative","scale":{"domain":[-8,1],"nice":false,"zero":false},"axis":{"values":[-7,-6,-5,-4,-3,-2,-1,0],"format":"d","titlePadding":14,"title":["Log of mean non-slip error","log₁₀(|u|θ)"]}},"stroke":{"field":"s","type":"ordinal","legend":null,"scale":{"range":["#0072bd","#d95319","#edb120","#7e2f8e","#77ac30","#4dbeee","#a2142f"]}}}},
{"data":{"values":[{"x":-2,"y":-8},{"x":-1,"y":-4}]},"mark":{"type":"line","color":"black","strokeWidth":2.5,"clip":true},"encoding":{"x":{"field":"x","type":"quantitative","axis":{"orient":"top","values":[-2,-1.8,-1.6,-1.4,-1.2,-1,-0.8,-0.6],"labels":false,"title":null}},"y":{"field":"y","type":"quantitative","axis":{"orient":"right","values":[-7,-6,-5,-4,-3,-2,-1,0],"labels":false,"title":null}}}},
{"data":{"values":[{"i":1,"x":-1.654,"y":-6.72},{"i":2,"x":-1.173,"y":-6.72},{"i":3,"x":-1.173,"y":-4.76}]},"mark":{"type":"line","color":"#222222","strokeWidth":1.5},"encoding":{"x":{"field":"x","type":"quantitative","axis":null},"y":{"field":"y","type":"quantitative","axis":null},"order":{"field":"i"}}},
{"data":{"values":[{"x":-1.924,"x2":-1.26,"y":-2.18,"y2":-3.75}]},"mark":{"type":"rect","color":"white","opacity":0.75},"encoding":{"x":{"field":"x","type":"quantitative","axis":null},"x2":{"field":"x2"},"y":{"field":"y","type":"quantitative","axis":null},"y2":{"field":"y2"}}},
{"data":{"values":[{"x":-1.88,"y":-3.53},{"x":-1.88,"y":-2.55}]},"mark":{"type":"line","color":"black","strokeWidth":2},"encoding":{"x":{"field":"x","type":"quantitative","axis":null},"y":{"field":"y","type":"quantitative","axis":null}}},
{"data":{"values":[{"x":-1.88,"y":-2.67}]},"mark":{"type":"point","shape":"triangle-up","filled":true,"color":"black","size":170,"opacity":1},"encoding":{"x":{"field":"x","type":"quantitative","axis":null},"y":{"field":"y","type":"quantitative","axis":null}}},
{"data":{"values":[{"x":-1.825,"y":-2.93,"t":"Increasing R"},{"x":-1.98,"y":0.28,"t":"c)"}]},"mark":{"type":"text","fontSize":23,"align":"left","color":"#111111"},"encoding":{"x":{"field":"x","type":"quantitative","axis":null},"y":{"field":"y","type":"quantitative","axis":null},"text":{"field":"t"}}},
{"data":{"values":[{"x":-1.4,"y":-7.17,"t":"1"},{"x":-1.12,"y":-5.73,"t":"4"}]},"mark":{"type":"text","fontSize":23,"color":"#111111"},"encoding":{"x":{"field":"x","type":"quantitative","axis":null},"y":{"field":"y","type":"quantitative","axis":null},"text":{"field":"t"}}}
]},
{"width":342,"height":269,"resolve":{"axis":{"x":"independent","y":"independent"}},"layer":[
{"data":{"name":"ld"},"mark":{"type":"line","strokeWidth":2.2,"clip":true,"interpolate":"monotone"},"encoding":{"x":{"field":"x","type":"quantitative","scale":{"domain":[-2,-0.46],"nice":false,"zero":false},"axis":{"values":[-2,-1.6,-1.2,-0.8],"format":".1f","tickSize":0,"labelPadding":6,"title":"Log of scaled radius, log₁₀(R)"}},"y":{"field":"y","type":"quantitative","scale":{"domain":[-8,1],"nice":false,"zero":false},"axis":{"values":[-7,-6,-5,-4,-3,-2,-1,0],"format":"d","titlePadding":14,"title":["Log of mean non-slip error","log₁₀(|u|θ)"]}},"stroke":{"field":"s","type":"ordinal","legend":null,"scale":{"range":["#0072bd","#d95319","#edb120","#7e2f8e","#77ac30","#4dbeee","#a2142f"]}}}},
{"data":{"values":[{"x":-2,"y":-8},{"x":-1.145,"y":-4.03}]},"mark":{"type":"line","color":"black","strokeWidth":2.5,"clip":true},"encoding":{"x":{"field":"x","type":"quantitative","axis":{"orient":"top","values":[-2,-1.831,-1.658,-1.487,-1.316,-1.145,-0.974,-0.804,-0.633],"labels":false,"title":null}},"y":{"field":"y","type":"quantitative","axis":{"orient":"right","values":[-7,-6,-5,-4,-3,-2,-1,0],"labels":false,"title":null}}}},
{"data":{"values":[{"i":1,"x":-1.718,"y":-6.72},{"i":2,"x":-1.256,"y":-6.72},{"i":3,"x":-1.256,"y":-4.54}]},"mark":{"type":"line","color":"#222222","strokeWidth":1.5},"encoding":{"x":{"field":"x","type":"quantitative","axis":{"orient":"bottom","values":[-2,-1.831,-1.658,-1.487,-1.316,-1.145,-0.974,-0.804,-0.633],"labels":false,"title":null}},"y":{"field":"y","type":"quantitative","axis":null},"order":{"field":"i"}}},
{"data":{"values":[{"x":-1.963,"x2":-1.204,"y":-1.25,"y2":-2.86}]},"mark":{"type":"rect","color":"white","opacity":0.75},"encoding":{"x":{"field":"x","type":"quantitative","axis":null},"x2":{"field":"x2"},"y":{"field":"y","type":"quantitative","axis":null},"y2":{"field":"y2"}}},
{"data":{"values":[{"x":-1.92,"y":-2.63},{"x":-1.92,"y":-1.65}]},"mark":{"type":"line","color":"black","strokeWidth":2},"encoding":{"x":{"field":"x","type":"quantitative","axis":null},"y":{"field":"y","type":"quantitative","axis":null}}},
{"data":{"values":[{"x":-1.92,"y":-1.78}]},"mark":{"type":"point","shape":"triangle-up","filled":true,"color":"black","size":170,"opacity":1},"encoding":{"x":{"field":"x","type":"quantitative","axis":null},"y":{"field":"y","type":"quantitative","axis":null}}},
{"data":{"values":[{"x":-1.868,"y":-2.07,"t":"Increasing R/h"},{"x":-1.96,"y":0.28,"t":"d)"}]},"mark":{"type":"text","fontSize":23,"align":"left","color":"#111111"},"encoding":{"x":{"field":"x","type":"quantitative","axis":null},"y":{"field":"y","type":"quantitative","axis":null},"text":{"field":"t"}}},
{"data":{"values":[{"x":-1.475,"y":-7.17,"t":"1"},{"x":-1.205,"y":-5.71,"t":"4"}]},"mark":{"type":"text","fontSize":23,"color":"#111111"},"encoding":{"x":{"field":"x","type":"quantitative","axis":null},"y":{"field":"y","type":"quantitative","axis":null},"text":{"field":"t"}}}
]}
]}
